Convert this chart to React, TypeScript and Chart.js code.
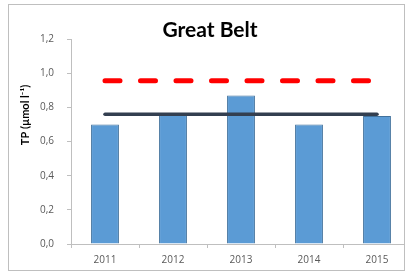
import React, { useEffect, useRef } from "react";
import { Chart, registerables } from "chart.js";

Chart.register(...registerables);

const years = ["2011", "2012", "2013", "2014", "2015"];
const tpValues = [0.70, 0.76, 0.87, 0.70, 0.75];
const targetValues = [0.955, 0.955, 0.955, 0.955, 0.955];
const meanValues = [0.76, 0.76, 0.76, 0.76, 0.76];
const yTickLabels = ["0,0", "0,2", "0,4", "0,6", "0,8", "1,0", "1,2"];
const chartTitle = "Great Belt";
const yAxisTitle = "TP (µmol l⁻¹)";

const FONT = "'Open Sans', 'Liberation Sans', sans-serif";

const yTitlePlugin = {
  id: "yTitlePlugin",
  afterDraw(chart: any) {
    const { ctx, chartArea } = chart;
    ctx.save();
    ctx.translate(chartArea.left - 46, chartArea.top + 76);
    ctx.rotate(-Math.PI / 2);
    ctx.font = `bold 11px Lato, ${FONT}`;
    ctx.fillStyle = "#000000";
    ctx.textAlign = "center";
    ctx.textBaseline = "middle";
    ctx.fillText(yAxisTitle, 0, 0);
    ctx.restore();
  },
};

export default function App() {
  const ref = useRef<HTMLCanvasElement | null>(null);

  useEffect(() => {
    if (!ref.current) return;
    const chart = new Chart(ref.current, {
      type: "bar",
      data: {
        labels: years,
        datasets: [
          {
            type: "line",
            data: targetValues,
            borderColor: "#FF0000",
            borderWidth: 5,
            borderDash: [15, 20.5],
            borderCapStyle: "round",
            pointRadius: 0,
            fill: false,
            order: 0,
          } as any,
          {
            type: "line",
            data: meanValues,
            borderColor: "#333F50",
            borderWidth: 3.5,
            borderCapStyle: "round",
            pointRadius: 0,
            fill: false,
            order: 1,
          } as any,
          {
            type: "bar",
            data: tpValues,
            backgroundColor: "#5B9BD5",
            borderColor: "#41719C",
            borderWidth: 1,
            categoryPercentage: 1,
            barPercentage: 0.41,
            order: 2,
          },
        ],
      },
      options: {
        animation: false,
        responsive: false,
        layout: { padding: { left: 0, right: 2, top: 0, bottom: 0 } },
        plugins: {
          legend: { display: false },
          tooltip: { enabled: false },
          title: {
            display: true,
            text: chartTitle,
            color: "#000000",
            font: { family: "Lato, 'Open Sans', sans-serif", size: 21, weight: "bold", lineHeight: 1.2 },
            padding: { top: 12.4, bottom: -3.6 },
          },
        },
        scales: {
          x: {
            type: "category",
            offset: true,
            grid: {
              display: true,
              offset: true,
              drawOnChartArea: false,
              drawTicks: true,
              tickLength: 4,
              color: "#BFBFBF",
            },
            border: { display: true, color: "#BFBFBF" },
            ticks: {
              color: "#595959",
              font: { family: FONT, size: 10 },
              padding: 6,
              maxRotation: 0,
            },
            afterFit(scale: any) {
              scale.height = 26;
            },
          },
          y: {
            min: 0,
            max: 1.2,
            grid: {
              display: true,
              drawOnChartArea: false,
              drawTicks: true,
              tickLength: 4,
              color: "#BFBFBF",
            },
            border: { display: true, color: "#BFBFBF" },
            ticks: {
              stepSize: 0.2,
              color: "#595959",
              font: { family: FONT, size: 10 },
              padding: 13,
              callback: (_v: any, i: number) => yTickLabels[i],
            },
            afterFit(scale: any) {
              scale.width = 62;
            },
          },
        },
      },
      plugins: [yTitlePlugin],
    } as any);
    return () => chart.destroy();
  }, []);

  return (
    <div
      style={{
        position: "fixed",
        left: 8,
        top: 4,
        width: 397,
        height: 267,
        boxSizing: "border-box",
        border: "1px solid #BFBFBF",
        overflow: "hidden",
        background: "#FFFFFF",
      }}
    >
      <canvas ref={ref} width={404} height={265} style={{ display: "block", width: 404, height: 265 }} />
    </div>
  );
}
